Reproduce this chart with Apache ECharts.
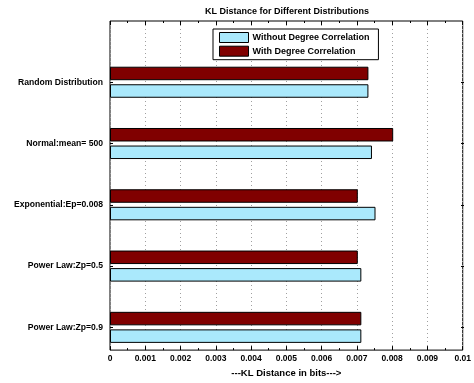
<!DOCTYPE html>
<html>
<head>
<meta charset="utf-8">
<script src="https://cdn.jsdelivr.net/npm/echarts@6/dist/echarts.min.js"></script>
<style>
  html, body { margin: 0; padding: 0; background: #fff; }
  #chart { width: 474px; height: 383px; }
</style>
</head>
<body>
<div id="chart"></div>
<script>
// Distributions, listed bottom to top as they appear on the vertical axis
const categories = [
  'Power Law:Zp=0.9',
  'Power Law:Zp=0.5',
  'Exponential:Ep=0.008',
  'Normal:mean= 500',
  'Random Distribution'
];
const withoutCorrelation = [0.0071, 0.0071, 0.0075, 0.0074, 0.0073];
const withCorrelation    = [0.0071, 0.0070, 0.0070, 0.0080, 0.0073];
const xTickValues = [0, 0.001, 0.002, 0.003, 0.004, 0.005, 0.006, 0.007, 0.008, 0.009, 0.01];

const FONT = 'Liberation Sans, Arial, Helvetica, sans-serif';
const chart = echarts.init(document.getElementById('chart'), null, { renderer: 'canvas' });

const tickLabel = v => {
  const hit = xTickValues.find(t => Math.abs(t - v) < 1e-9);
  return hit === undefined ? '' : String(hit);
};

chart.setOption({
  animation: false,
  backgroundColor: '#fff',
  title: {
    text: 'KL Distance for Different Distributions',
    left: 287, top: 7, textAlign: 'center', padding: 0,
    textStyle: { fontFamily: FONT, fontSize: 9, fontWeight: 'bold', color: '#000' }
  },
  legend: {
    data: ['Without Degree Correlation', 'With Degree Correlation'],
    orient: 'vertical',
    left: 213, top: 29,
    padding: [3, 9, 3, 6],
    itemWidth: 29, itemHeight: 10, itemGap: 2.7,
    icon: 'rect',
    backgroundColor: '#fff',
    borderColor: '#000', borderWidth: 1,
    itemStyle: { borderColor: '#000', borderWidth: 1 },
    textStyle: { fontFamily: FONT, fontSize: 9, fontWeight: 'bold', color: '#000', lineHeight: 10, padding: [0, 0, 0, -1] },
    selectedMode: false,
    z: 10
  },
  grid: [
    // frame: full axes box with ticks and dotted grid
    { left: 110, right: 10, top: 21, bottom: 25, show: true, borderColor: '#000', borderWidth: 1, backgroundColor: 'transparent' },
    // bar area: category spacing matched to the frame's vertical scale
    { left: 110, right: 10, top: 51.6, bottom: 25 }
  ],
  xAxis: [
    {
      gridIndex: 0, type: 'value', position: 'bottom',
      min: 0, max: 0.01, interval: 0.001,
      axisLine: { show: false },
      axisTick: { show: true, inside: true, length: 4, lineStyle: { color: '#000' } },
      minorTick: { show: true, splitNumber: 2, length: 2, lineStyle: { color: '#000' } },
      splitLine: { show: true, lineStyle: { color: '#a0a0a0', type: [1, 3], width: 1 } },
      axisLabel: {
        margin: 4, fontFamily: FONT, fontSize: 8.5, fontWeight: 'bold', color: '#000',
        formatter: tickLabel
      },
      name: '---KL Distance in bits--->',
      nameLocation: 'middle', nameGap: 16,
      nameTextStyle: { fontFamily: FONT, fontSize: 9.5, fontWeight: 'bold', color: '#000' }
    },
    {
      gridIndex: 0, type: 'value', position: 'top',
      min: 0, max: 0.01, interval: 0.001,
      axisLine: { show: false },
      axisTick: { show: true, inside: true, length: 4, lineStyle: { color: '#000' } },
      minorTick: { show: true, splitNumber: 2, length: 2, lineStyle: { color: '#000' } },
      splitLine: { show: false },
      axisLabel: { show: false }
    },
    {
      gridIndex: 1, type: 'value', min: 0, max: 0.01, show: false
    }
  ],
  yAxis: [
    { gridIndex: 0, type: 'value', min: 0, max: 1, show: false },
    {
      gridIndex: 1, type: 'category', position: 'left', data: categories,
      axisLine: { show: false },
      axisTick: { show: true, inside: true, alignWithLabel: true, length: 3, lineStyle: { color: '#000' } },
      axisLabel: { margin: 7, fontFamily: FONT, fontSize: 8.6, fontWeight: 'bold', color: '#000' }
    },
    {
      gridIndex: 1, type: 'category', position: 'right', data: categories,
      axisLine: { show: false },
      axisTick: { show: true, inside: true, alignWithLabel: true, length: 3, lineStyle: { color: '#000' } },
      axisLabel: { show: false }
    }
  ],
  // In a horizontal group the first series sits on top, so the correlated bars come first
  series: [
    {
      name: 'With Degree Correlation', type: 'bar',
      xAxisIndex: 2, yAxisIndex: 1,
      data: withCorrelation,
      barWidth: 13.5, barGap: '30%',
      itemStyle: { color: '#800000', borderColor: '#000', borderWidth: 1 }
    },
    {
      name: 'Without Degree Correlation', type: 'bar',
      xAxisIndex: 2, yAxisIndex: 1,
      data: withoutCorrelation,
      barWidth: 13.5, barGap: '30%',
      itemStyle: { color: '#aae9fc', borderColor: '#000', borderWidth: 1 }
    }
  ]
});
</script>
</body>
</html>
